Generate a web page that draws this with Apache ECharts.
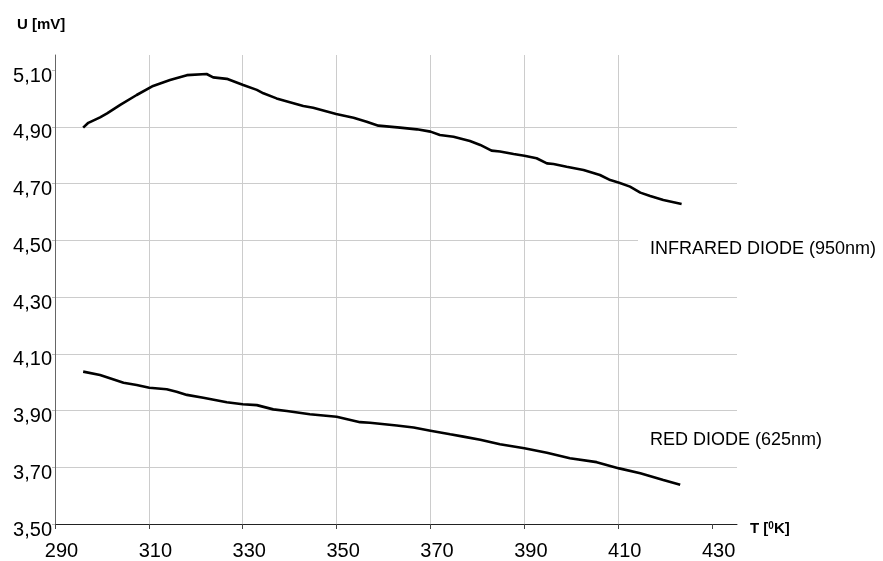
<!DOCTYPE html>
<html>
<head>
<meta charset="utf-8">
<script src="https://cdn.jsdelivr.net/npm/echarts@6/dist/echarts.min.js"></script>
<style>
   html, body { margin: 0; padding: 0; background: #fff; }
   #diode_chart { width: 883px; height: 561px; }
</style>
</head>
<body>
<div id="diode_chart"></div>
<script>
// temperature [K] / voltage [mV]
const irT = [296.0, 297.1, 299.6, 301.1, 303.9, 307.4, 310.9, 314.5, 318.1, 322.3, 323.7, 326.6, 330.1, 333.0, 334.4, 337.2, 340.8, 342.9, 345.0, 349.9, 353.6, 356.4, 358.9, 363.5, 367.1, 370.0, 372.0, 374.9, 378.4, 380.6, 383.0, 384.8, 387.7, 390.0, 392.6, 394.8, 396.2, 399.0, 402.6, 406.1, 408.3, 410.2, 412.5, 414.7, 416.8, 419.6, 423.5];
const irU = [4.897, 4.914, 4.933, 4.947, 4.977, 5.012, 5.044, 5.065, 5.082, 5.086, 5.074, 5.069, 5.047, 5.030, 5.018, 5.000, 4.983, 4.973, 4.967, 4.945, 4.932, 4.918, 4.904, 4.897, 4.891, 4.883, 4.871, 4.865, 4.850, 4.836, 4.816, 4.813, 4.804, 4.798, 4.789, 4.771, 4.769, 4.759, 4.748, 4.730, 4.712, 4.703, 4.689, 4.668, 4.656, 4.642, 4.628];

const redT = [296.0, 299.6, 304.6, 307.4, 310.1, 313.8, 315.9, 318.1, 321.6, 326.6, 330.0, 333.0, 336.5, 339.4, 344.3, 350.0, 355.0, 357.1, 362.8, 366.4, 370.0, 374.2, 377.0, 380.6, 384.8, 390.0, 394.8, 399.7, 405.4, 410.2, 414.7, 419.6, 423.2];
const redU = [4.037, 4.025, 3.998, 3.990, 3.980, 3.975, 3.966, 3.955, 3.945, 3.929, 3.922, 3.919, 3.904, 3.898, 3.887, 3.878, 3.859, 3.857, 3.847, 3.840, 3.829, 3.816, 3.808, 3.797, 3.781, 3.767, 3.751, 3.732, 3.718, 3.696, 3.679, 3.655, 3.638];

const xTicks = [290, 310, 330, 350, 370, 390, 410, 430];
const yTicks = [3.5, 3.7, 3.9, 4.1, 4.3, 4.5, 4.7, 4.9, 5.1];

const irLabel = 'INFRARED DIODE (950nm)';
const redLabel = 'RED DIODE (625nm)';

function pairs(xs, ys) {
   return xs.map((x, i) => [x, ys[i]]);
}

function onGrid(v, start, step) {
   let k = (v - start) / step;
   return Math.abs(k - Math.round(k)) < 0.01;
}

const FONT = '"Liberation Sans", Arial, sans-serif';

echarts.init(document.querySelector('#diode_chart')).setOption({
   animation: false,
   backgroundColor: '#fff',
   grid: {
      left: 55,
      right: 146,
      top: 55,
      bottom: 37,
      containLabel: false
   },
   xAxis: {
      type: 'value',
      min: 290,
      max: 435.3,
      interval: 20,
      axisLine: { lineStyle: { color: '#222', width: 1 } },
      axisTick: { show: true, length: 5, customValues: xTicks, lineStyle: { color: '#444' } },
      axisLabel: {
         customValues: xTicks,
         margin: 17,
         padding: [0, 0, 0, 13],
         color: '#000',
         fontSize: 20,
         fontFamily: FONT,
         formatter: v => onGrid(v, 290, 20) ? String(Math.round(v)) : ''
      },
      splitLine: {
         show: true,
         showMinLine: false,
         showMaxLine: false,
         lineStyle: { color: '#cccccc', width: 1 }
      }
   },
   yAxis: {
      type: 'value',
      min: 3.5,
      max: 5.153,
      interval: 0.2,
      axisLine: { show: true, lineStyle: { color: '#666', width: 1 } },
      axisTick: { show: true, length: 3, customValues: yTicks, lineStyle: { color: '#bbb' } },
      axisLabel: {
         customValues: yTicks,
         margin: 3,
         verticalAlign: 'top',
         lineHeight: 12,
         color: '#000',
         fontSize: 20,
         fontFamily: FONT,
         formatter: v => onGrid(v, 3.5, 0.2) ? v.toFixed(2).replace('.', ',') : ''
      },
      splitLine: {
         show: true,
         showMinLine: false,
         showMaxLine: false,
         lineStyle: { color: '#cccccc', width: 1 }
      }
   },
   series: [{
      name: irLabel,
      type: 'line',
      data: pairs(irT, irU),
      showSymbol: false,
      smooth: false,
      lineStyle: { color: '#000', width: 2.6 }
   },
   {
      name: redLabel,
      type: 'line',
      data: pairs(redT, redU),
      showSymbol: false,
      smooth: false,
      lineStyle: { color: '#000', width: 2.6 }
   }],
   graphic: [
      {
         type: 'text',
         left: 17,
         top: 17,
         style: { text: 'U [mV]', fill: '#000', font: 'bold 15px ' + FONT }
      },
      {
         type: 'text',
         left: 750,
         top: 521,
         style: {
            text: '{b|T [}{s|0}{b|K]}',
            rich: {
               b: { fill: '#000', fontSize: 15, fontWeight: 'bold', fontFamily: FONT },
               s: { fill: '#000', fontSize: 10, fontWeight: 'bold', fontFamily: FONT, verticalAlign: 'top', padding: [0, 0, 6, 0] }
            }
         }
      },
      {
         // white box behind the infrared label hides the grid there
         type: 'rect',
         z: 100,
         shape: { x: 638, y: 239.5, width: 245, height: 47.5 },
         style: { fill: '#fff' }
      },
      {
         type: 'text',
         z: 101,
         left: 650,
         top: 240,
         style: { text: irLabel, fill: '#000', font: '18px ' + FONT }
      },
      {
         type: 'text',
         z: 101,
         left: 650,
         top: 431,
         style: { text: redLabel, fill: '#000', font: '18px ' + FONT }
      }
   ]
});
</script>
</body>
</html>
